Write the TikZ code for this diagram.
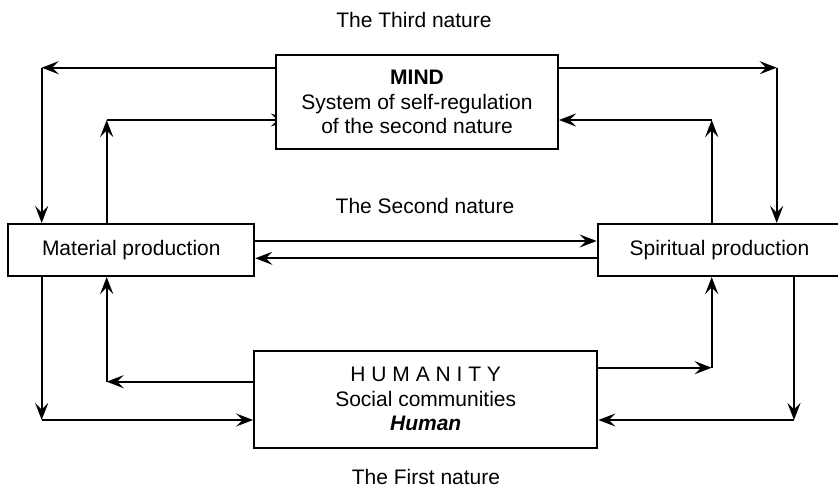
\documentclass[tikz,border=0pt]{standalone}
\usepackage{fontspec}
\setmainfont{Liberation Sans}
\usetikzlibrary{arrows.meta,backgrounds}
\begin{document}
\begin{tikzpicture}[x=1pt,y=-1pt,
  box/.style={draw,line width=2pt,fill=white,inner sep=0pt,align=center,
    font=\fontsize{21}{24.5}\selectfont},
  link/.style={line width=2pt,-{Stealth[length=17pt,width=13pt,inset=6.5pt]}},
  lab/.style={font=\fontsize{21}{24.5}\selectfont,inner sep=1pt}]
\useasboundingbox (0,0) rectangle (838,489);

% boxes
\node[box,minimum width=282pt,minimum height=94pt] (mind) at (417,102)
  {\textbf{MIND}\\System of self-regulation\\of the second nature};
\node[box,minimum width=246pt,minimum height=52pt] (mat) at (131.3,250)
  {Material production};
\node[box,minimum width=243.6pt,minimum height=52pt] (spi) at (719.5,250)
  {Spiritual production};
\node[box,minimum width=343.3pt,minimum height=97pt] (hum) at (425.7,399.2)
  {H U M A N I T Y\\Social communities\\\textbf{\textit{Human}}};

% captions
\node[lab] (third) at (414,20) {The Third nature};
\node[lab] (second) at (425,206) {The Second nature};
\node[lab] (first) at (426,477) {The First nature};

% corner points of the connectors
\coordinate (a1) at (41.7,67.7);
\coordinate (a2) at (106.7,120);
\coordinate (a3) at (776.7,67.7);
\coordinate (a4) at (711.7,120);
\coordinate (h1) at (0,241);
\coordinate (h2) at (0,258.3);
\coordinate (b1) at (106.7,381.7);
\coordinate (b2) at (41.7,420);
\coordinate (b3) at (711.7,367.7);
\coordinate (b4) at (794,420);

\begin{scope}[on background layer]
  % upper loops
  \draw[link] (mind.west |- a1) -- (a1);
  \draw[link] (a1) -- (a1 |- mat.north);
  \draw[link] (a2 |- mat.north) -- (a2);
  \draw[link,shorten >=-13pt] (a2) -- (mind.west |- a2);
  \draw[link] (mind.east |- a3) -- (a3);
  \draw[link] (a3) -- (a3 |- spi.north);
  \draw[link] (a4 |- spi.north) -- (a4);
  \draw[link] (a4) -- (mind.east |- a4);
  % exchange between the productions
  \draw[link] (mat.east |- h1) -- (spi.west |- h1);
  \draw[link] (spi.west |- h2) -- (mat.east |- h2);
  % lower loops
  \draw[link] (hum.west |- b1) -- (b1);
  \draw[link] (b1) -- (b1 |- mat.south);
  \draw[link] (b2 |- mat.south) -- (b2);
  \draw[link] (b2) -- (hum.west |- b2);
  \draw[link] (hum.east |- b3) -- (b3);
  \draw[link] (b3) -- (b3 |- spi.south);
  \draw[link] (b4 |- spi.south) -- (b4);
  \draw[link] (b4) -- (hum.east |- b4);
\end{scope}
\end{tikzpicture}
\end{document}
